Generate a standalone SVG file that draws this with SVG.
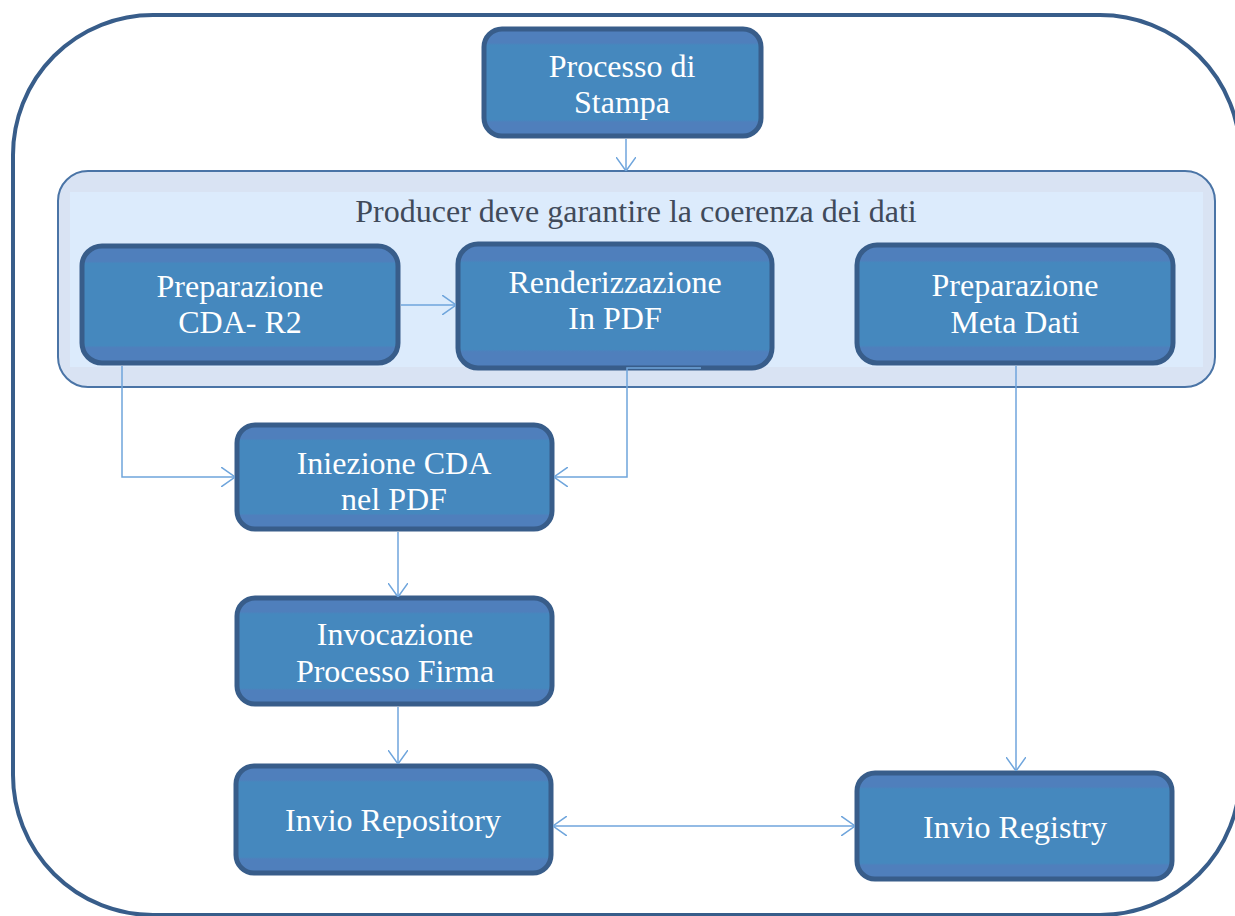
<svg xmlns="http://www.w3.org/2000/svg" width="1235" height="916" viewBox="0 0 1235 916">
<defs>
<linearGradient id="nodeFill" x1="0" y1="0" x2="0" y2="1">
<stop offset="0" stop-color="#4F7FBC"/>
<stop offset="0.13" stop-color="#4F7FBC"/>
<stop offset="0.15" stop-color="#4588BE"/>
<stop offset="0.85" stop-color="#4588BE"/>
<stop offset="0.87" stop-color="#4F7FBC"/>
<stop offset="1" stop-color="#4F7FBC"/>
</linearGradient>
<marker id="arr" viewBox="0 0 14 20" refX="14" refY="10" markerWidth="14" markerHeight="20" markerUnits="userSpaceOnUse" orient="auto-start-reverse">
<path d="M0,0 L14,10 L0,20" fill="none" stroke="#6FA5DC" stroke-width="1.5"/>
</marker>
<style>
.node{fill:url(#nodeFill);stroke:#385D8A;stroke-width:5}
.lbl{font-family:"Liberation Serif","Times New Roman",serif;font-size:32px;fill:#FFFFFF;text-anchor:middle}
.conn{fill:none;stroke:#6FA5DC;stroke-width:1.5}
</style>
</defs>
<rect width="1235" height="916" fill="#FFFFFF"/>
<rect id="frame" x="13" y="15" width="1227" height="900" rx="140" ry="140" fill="none" stroke="#385D8A" stroke-width="4"/>
<g id="container">
<rect x="58" y="171" width="1157" height="216" rx="30" ry="30" fill="#D9E3F3" stroke="#4A74A6" stroke-width="2"/>
<rect x="70" y="192" width="1133" height="175" fill="#DCEBFC"/>
<text x="636" y="222" font-family="Liberation Serif, Times New Roman, serif" font-size="32" fill="#404A5A" text-anchor="middle">Producer deve garantire la coerenza dei dati</text>
</g>
<g id="n-stampa">
<rect class="node" x="484" y="29" width="277" height="107" rx="18"/>
<text class="lbl" x="622" y="77">Processo di</text>
<text class="lbl" x="622" y="113">Stampa</text>
</g>
<g id="n-cda">
<rect class="node" x="82" y="246" width="316" height="117" rx="20"/>
<text class="lbl" x="240" y="297">Preparazione</text>
<text class="lbl" x="240" y="333">CDA- R2</text>
</g>
<g id="n-render">
<rect class="node" x="458" y="244" width="314" height="124" rx="20"/>
<text class="lbl" x="615" y="293">Renderizzazione</text>
<text class="lbl" x="615" y="329">In PDF</text>
</g>
<g id="n-meta">
<rect class="node" x="857" y="245" width="316" height="118" rx="20"/>
<text class="lbl" x="1015" y="296">Preparazione</text>
<text class="lbl" x="1015" y="333">Meta Dati</text>
</g>
<g id="n-iniezione">
<rect class="node" x="237" y="425" width="315" height="104" rx="18"/>
<text class="lbl" x="394" y="474">Iniezione CDA</text>
<text class="lbl" x="394" y="510">nel PDF</text>
</g>
<g id="n-firma">
<rect class="node" x="237" y="598" width="315" height="106" rx="18"/>
<text class="lbl" x="395" y="645">Invocazione</text>
<text class="lbl" x="395" y="682">Processo Firma</text>
</g>
<g id="n-repository">
<rect class="node" x="236" y="766" width="315" height="107" rx="18"/>
<text class="lbl" x="393" y="831">Invio Repository</text>
</g>
<g id="n-registry">
<rect class="node" x="857" y="773" width="315" height="106" rx="18"/>
<text class="lbl" x="1015" y="838">Invio Registry</text>
</g>
<g id="connectors">
<line class="conn" x1="626" y1="139" x2="626" y2="171" marker-end="url(#arr)"/>
<line class="conn" x1="401" y1="305" x2="456" y2="305" marker-end="url(#arr)"/>
<polyline class="conn" points="122,366 122,477 235,477" marker-end="url(#arr)"/>
<polyline class="conn" points="701,368 627,368 627,477 554,477" marker-end="url(#arr)"/>
<line class="conn" x1="1016" y1="366" x2="1016" y2="771" marker-end="url(#arr)"/>
<line class="conn" x1="398" y1="532" x2="398" y2="597" marker-end="url(#arr)"/>
<line class="conn" x1="398" y1="707" x2="398" y2="764" marker-end="url(#arr)"/>
<line class="conn" x1="553" y1="826" x2="855" y2="826" marker-start="url(#arr)" marker-end="url(#arr)"/>
</g>
</svg>
